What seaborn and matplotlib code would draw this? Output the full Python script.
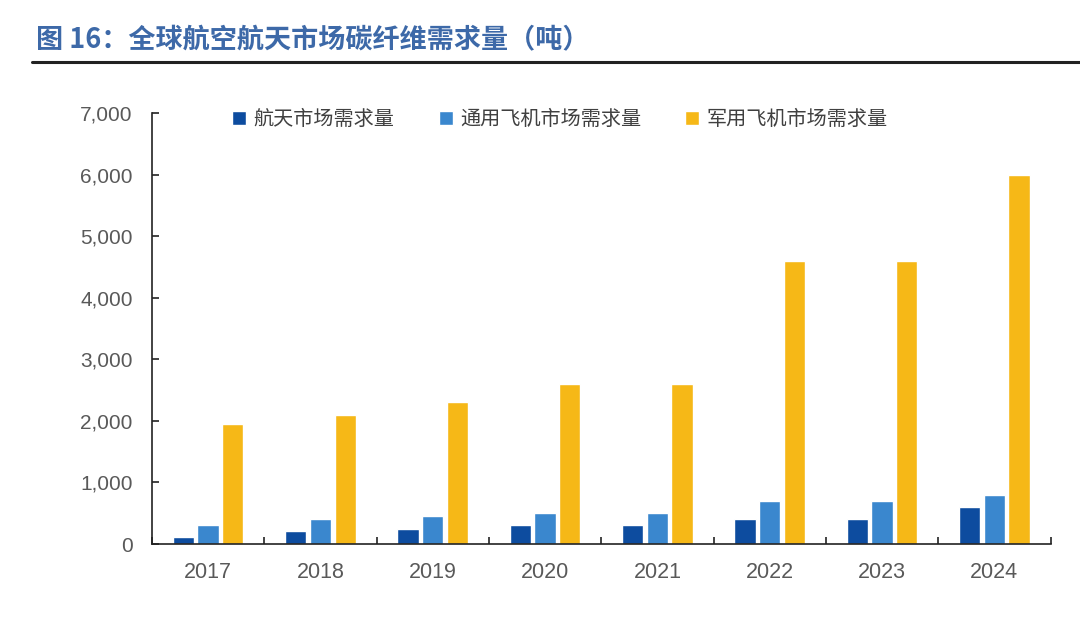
import matplotlib
matplotlib.use("Agg")
import matplotlib.pyplot as plt
import pandas as pd
import seaborn as sns

years = ["2017", "2018", "2019", "2020", "2021", "2022", "2023", "2024"]
space_demand = [110, 210, 250, 310, 310, 410, 410, 600]
general_aviation = [310, 410, 450, 500, 500, 700, 700, 800]
military_aviation = [1950, 2100, 2300, 2600, 2600, 4600, 4600, 6000]
series_names = ["航天市场需求量", "通用飞机市场需求量", "军用飞机市场需求量"]
colors = ["#0D4C9F", "#3A87CE", "#F6B817"]

df = pd.DataFrame(
    {
        "year": years * 3,
        "value": space_demand + general_aviation + military_aviation,
        "series": [s for s in series_names for _ in years],
    }
)

sns.set_theme(style="ticks")
plt.rcParams["font.family"] = ["Noto Sans CJK SC", "DejaVu Sans"]

fig = plt.figure(figsize=(10.8, 6.18), dpi=100)
ax = fig.add_axes([0.1407, 0.1197, 0.832, 0.6975])

sns.barplot(
    data=df, x="year", y="value", hue="series", hue_order=series_names,
    palette=colors, width=0.66, gap=0.14, saturation=1, ax=ax,
)

ax.set_ylim(0, 7000)
ax.set_xlim(-0.5, len(years) - 0.5)
ax.set_yticks(range(0, 7001, 1000))
ax.set_yticklabels([f"{v:,}" for v in range(0, 7001, 1000)],
                   fontfamily="Liberation Sans")
ax.set_xlabel("")
ax.set_ylabel("")
ax.tick_params(axis="y", direction="in", length=5, width=1.2, colors="#222222",
               labelcolor="#595959", labelsize=15, pad=14)
ax.set_xticks(range(len(years)))
ax.set_xticklabels(years, fontfamily="Liberation Sans")
ax.tick_params(axis="x", length=0, labelcolor="#595959", labelsize=15.5, pad=13)
# category boundary ticks
ax.set_xticks([i - 0.5 for i in range(len(years) + 1)], minor=True)
ax.tick_params(axis="x", which="minor", direction="in", length=5, width=1.2,
               colors="#222222")
for s in ["top", "right"]:
    ax.spines[s].set_visible(False)
for s in ["left", "bottom"]:
    ax.spines[s].set_color("#222222")
    ax.spines[s].set_linewidth(1.2)

leg = ax.legend(
    loc="center", bbox_to_anchor=(0.454, 0.985), ncol=3, frameon=False,
    handlelength=0.7, handleheight=0.7, handletextpad=0.35, columnspacing=2.2,
    prop={"family": "Noto Sans CJK SC", "size": 14.5},
)
for t in leg.get_texts():
    t.set_color("#404040")

fig.text(0.033, 0.935, "图 16：全球航空航天市场碳纤维需求量（吨）", color="#3D69A8",
         fontsize=19.5, fontweight="bold", va="center")
fig.add_artist(plt.Line2D([0.03, 1.0], [0.9, 0.9], color="#222222", lw=2.2,
                          transform=fig.transFigure))

fig.savefig("out.png", dpi=100)
